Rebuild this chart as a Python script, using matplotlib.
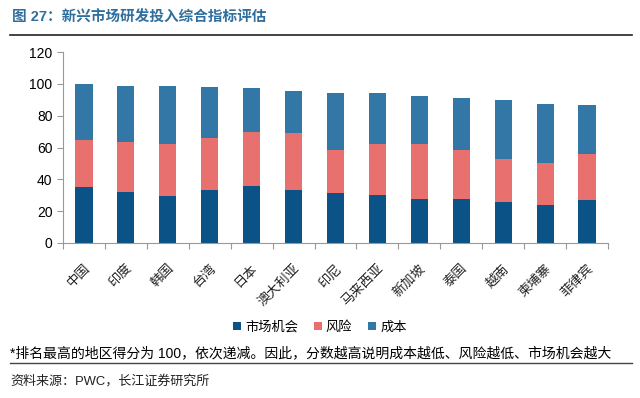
import matplotlib
matplotlib.use('Agg')
import matplotlib.pyplot as plt
import numpy as np

plt.rcParams['font.family'] = ['Liberation Sans', 'Noto Sans CJK SC', 'DejaVu Sans']

regions = ['中国', '印度', '韩国', '台湾', '日本', '澳大利亚', '印尼', '马来西亚',
           '新加坡', '泰国', '越南', '柬埔寨', '菲律宾']
# cumulative tops
market_top = [35.1, 31.8, 29.3, 33.3, 36.0, 33.0, 31.4, 30.4, 27.9, 27.9, 25.8, 24.0, 27.3]
risk_top = [64.9, 63.4, 62.0, 65.9, 69.6, 69.0, 58.7, 62.0, 62.0, 58.3, 52.7, 50.2, 56.0]
total = [100.0, 98.8, 98.8, 98.1, 97.5, 95.5, 94.0, 94.0, 92.4, 90.9, 90.1, 87.4, 86.8]

market = np.array(market_top)
risk = np.array(risk_top) - market
cost = np.array(total) - np.array(risk_top)

c_market = '#0b5286'
c_risk = '#e8706e'
c_cost = '#3377a6'

fig = plt.figure(figsize=(6.4, 3.98), dpi=100)
ax = fig.add_axes([63 / 640, 1 - 243 / 398, 545 / 640, (243 - 52) / 398])

x = np.arange(len(regions))
w = 0.41
ax.bar(x, market, w, color=c_market, label='市场机会')
ax.bar(x, risk, w, bottom=market, color=c_risk, label='风险')
ax.bar(x, cost, w, bottom=market + risk, color=c_cost, label='成本')

ax.set_xlim(-0.5, len(regions) - 0.5)
ax.set_ylim(0, 120)
ax.set_yticks(range(0, 121, 20))
ax.set_xticks(np.arange(-0.5, len(regions), 1.0))
ax.set_xticklabels([])
ax.set_xticks(x, minor=True)
ax.set_xticklabels(regions, minor=True, rotation=45, ha='right', rotation_mode='anchor',
                   fontsize=9.5, color='#222222')
ax.tick_params(axis='x', which='minor', length=0, pad=14)
ax.tick_params(axis='x', which='major', length=4, color='#999999')
ax.tick_params(axis='y', length=4, color='#999999', labelsize=10)
for s in ['top', 'right']:
    ax.spines[s].set_visible(False)
ax.spines['left'].set_color('#999999')
ax.spines['bottom'].set_color('#999999')

fig.legend(loc='center', bbox_to_anchor=(0.5, 1 - 327 / 398), ncol=3, frameon=False,
           fontsize=9.5, handlelength=0.6, handleheight=0.6, handletextpad=0.3,
           columnspacing=1.2)

fig.text(12 / 640, 1 - 18 / 398, '图 27：新兴市场研发投入综合指标评估', fontsize=10.5,
         fontweight='bold', color='#2f6f9e', va='center')
fig.add_artist(plt.Line2D([10 / 640, 632 / 640], [1 - 35 / 398, 1 - 35 / 398],
                          color='#222222', lw=1.2))
fig.text(10 / 640, 1 - 353 / 398,
         '*排名最高的地区得分为 100，依次递减。因此，分数越高说明成本越低、风险越低、市场机会越大',
         fontsize=10, va='center')
fig.add_artist(plt.Line2D([10 / 640, 632 / 640], [1 - 363 / 398, 1 - 363 / 398],
                          color='#444444', lw=1.0))
fig.text(10 / 640, 1 - 381 / 398, '资料来源：PWC，长江证券研究所', fontsize=9.4,
         va='center', color='#222222')

fig.savefig('out.png', dpi=100)
